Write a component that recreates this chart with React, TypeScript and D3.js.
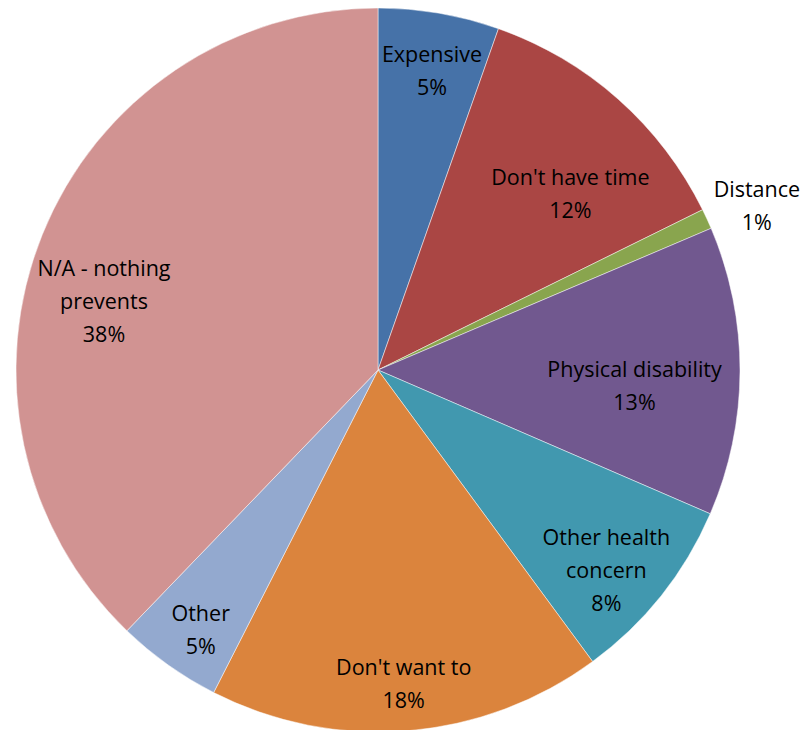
import React, { useRef, useEffect } from "react";
import * as d3 from "d3";

// Data (clockwise from 12 o'clock)
const categories = [
  "Expensive",
  "Don't have time",
  "Distance",
  "Physical disability",
  "Other health concern",
  "Don't want to",
  "Other",
  "N/A - nothing prevents",
];
const values = [5.4, 12.3, 0.9, 12.9, 8.4, 17.6, 4.7, 37.8];
const percentLabels = ["5%", "12%", "1%", "13%", "8%", "18%", "5%", "38%"];
const labelLines = [
  ["Expensive"],
  ["Don't have time"],
  ["Distance"],
  ["Physical disability"],
  ["Other health", "concern"],
  ["Don't want to"],
  ["Other"],
  ["N/A - nothing", "prevents"],
];
const colors = [
  "#4672A8",
  "#AA4644",
  "#89A54E",
  "#71588F",
  "#4198AF",
  "#DB843D",
  "#93A9CF",
  "#D19392",
];

// label placement: radius as fraction of pie radius, angle shift in degrees
const labelRadius = [0.84, 0.72, 1.14, 0.71, 0.84, 0.87, 0.87, 0.78];
const labelShift = [0.5, 6, 1.3, 3.4, 2.8, 0, -1.2, -8];

const W = 810;
const H = 730;

const App: React.FC = () => {
  const svgRef = useRef<SVGSVGElement | null>(null);

  useEffect(() => {
    if (!svgRef.current) return;
    const svg = d3.select(svgRef.current);
    svg.selectAll("*").remove();

    const cx = 378;
    const cy = 370;
    const R = 362;

    const data = categories.map((c, i) => ({ label: c, value: values[i], i }));
    const pie = d3
      .pie<(typeof data)[number]>()
      .value((d) => d.value)
      .sort(null);
    const arcs = pie(data);
    const arc = d3
      .arc<d3.PieArcDatum<(typeof data)[number]>>()
      .innerRadius(0)
      .outerRadius(R);

    const g = svg.append("g").attr("transform", `translate(${cx},${cy})`);

    g.selectAll("path")
      .data(arcs)
      .enter()
      .append("path")
      .attr("d", arc)
      .attr("fill", (d) => colors[d.data.i])
      .attr("stroke", "#ffffff")
      .attr("stroke-opacity", 0.6)
      .attr("stroke-width", 0.8);

    const lineH = 33;
    const labels = g
      .selectAll("g.lbl")
      .data(arcs)
      .enter()
      .append("g")
      .attr("class", "lbl")
      .attr("transform", (d) => {
        const a = (d.startAngle + d.endAngle) / 2 + (labelShift[d.data.i] * Math.PI) / 180;
        const r = R * labelRadius[d.data.i];
        return `translate(${Math.sin(a) * r},${-Math.cos(a) * r})`;
      });

    labels.each(function (d) {
      const lines = [...labelLines[d.data.i], percentLabels[d.data.i]];
      const t = d3
        .select(this)
        .append("text")
        .attr("text-anchor", "middle")
        .style("font-family", "'Open Sans', sans-serif")
        .style("font-size", "21.5px")
        .attr("fill", "#000");
      const y0 = -((lines.length - 1) * lineH) / 2;
      lines.forEach((l, k) => {
        t.append("tspan")
          .attr("x", 0)
          .attr("y", y0 + k * lineH)
          .attr("dy", "0.35em")
          .text(l);
      });
    });
  }, []);

  return (
    <svg
      ref={svgRef}
      width={W}
      height={H}
      style={{ position: "absolute", left: 0, top: 0, background: "#fff" }}
    />
  );
};

export default App;
